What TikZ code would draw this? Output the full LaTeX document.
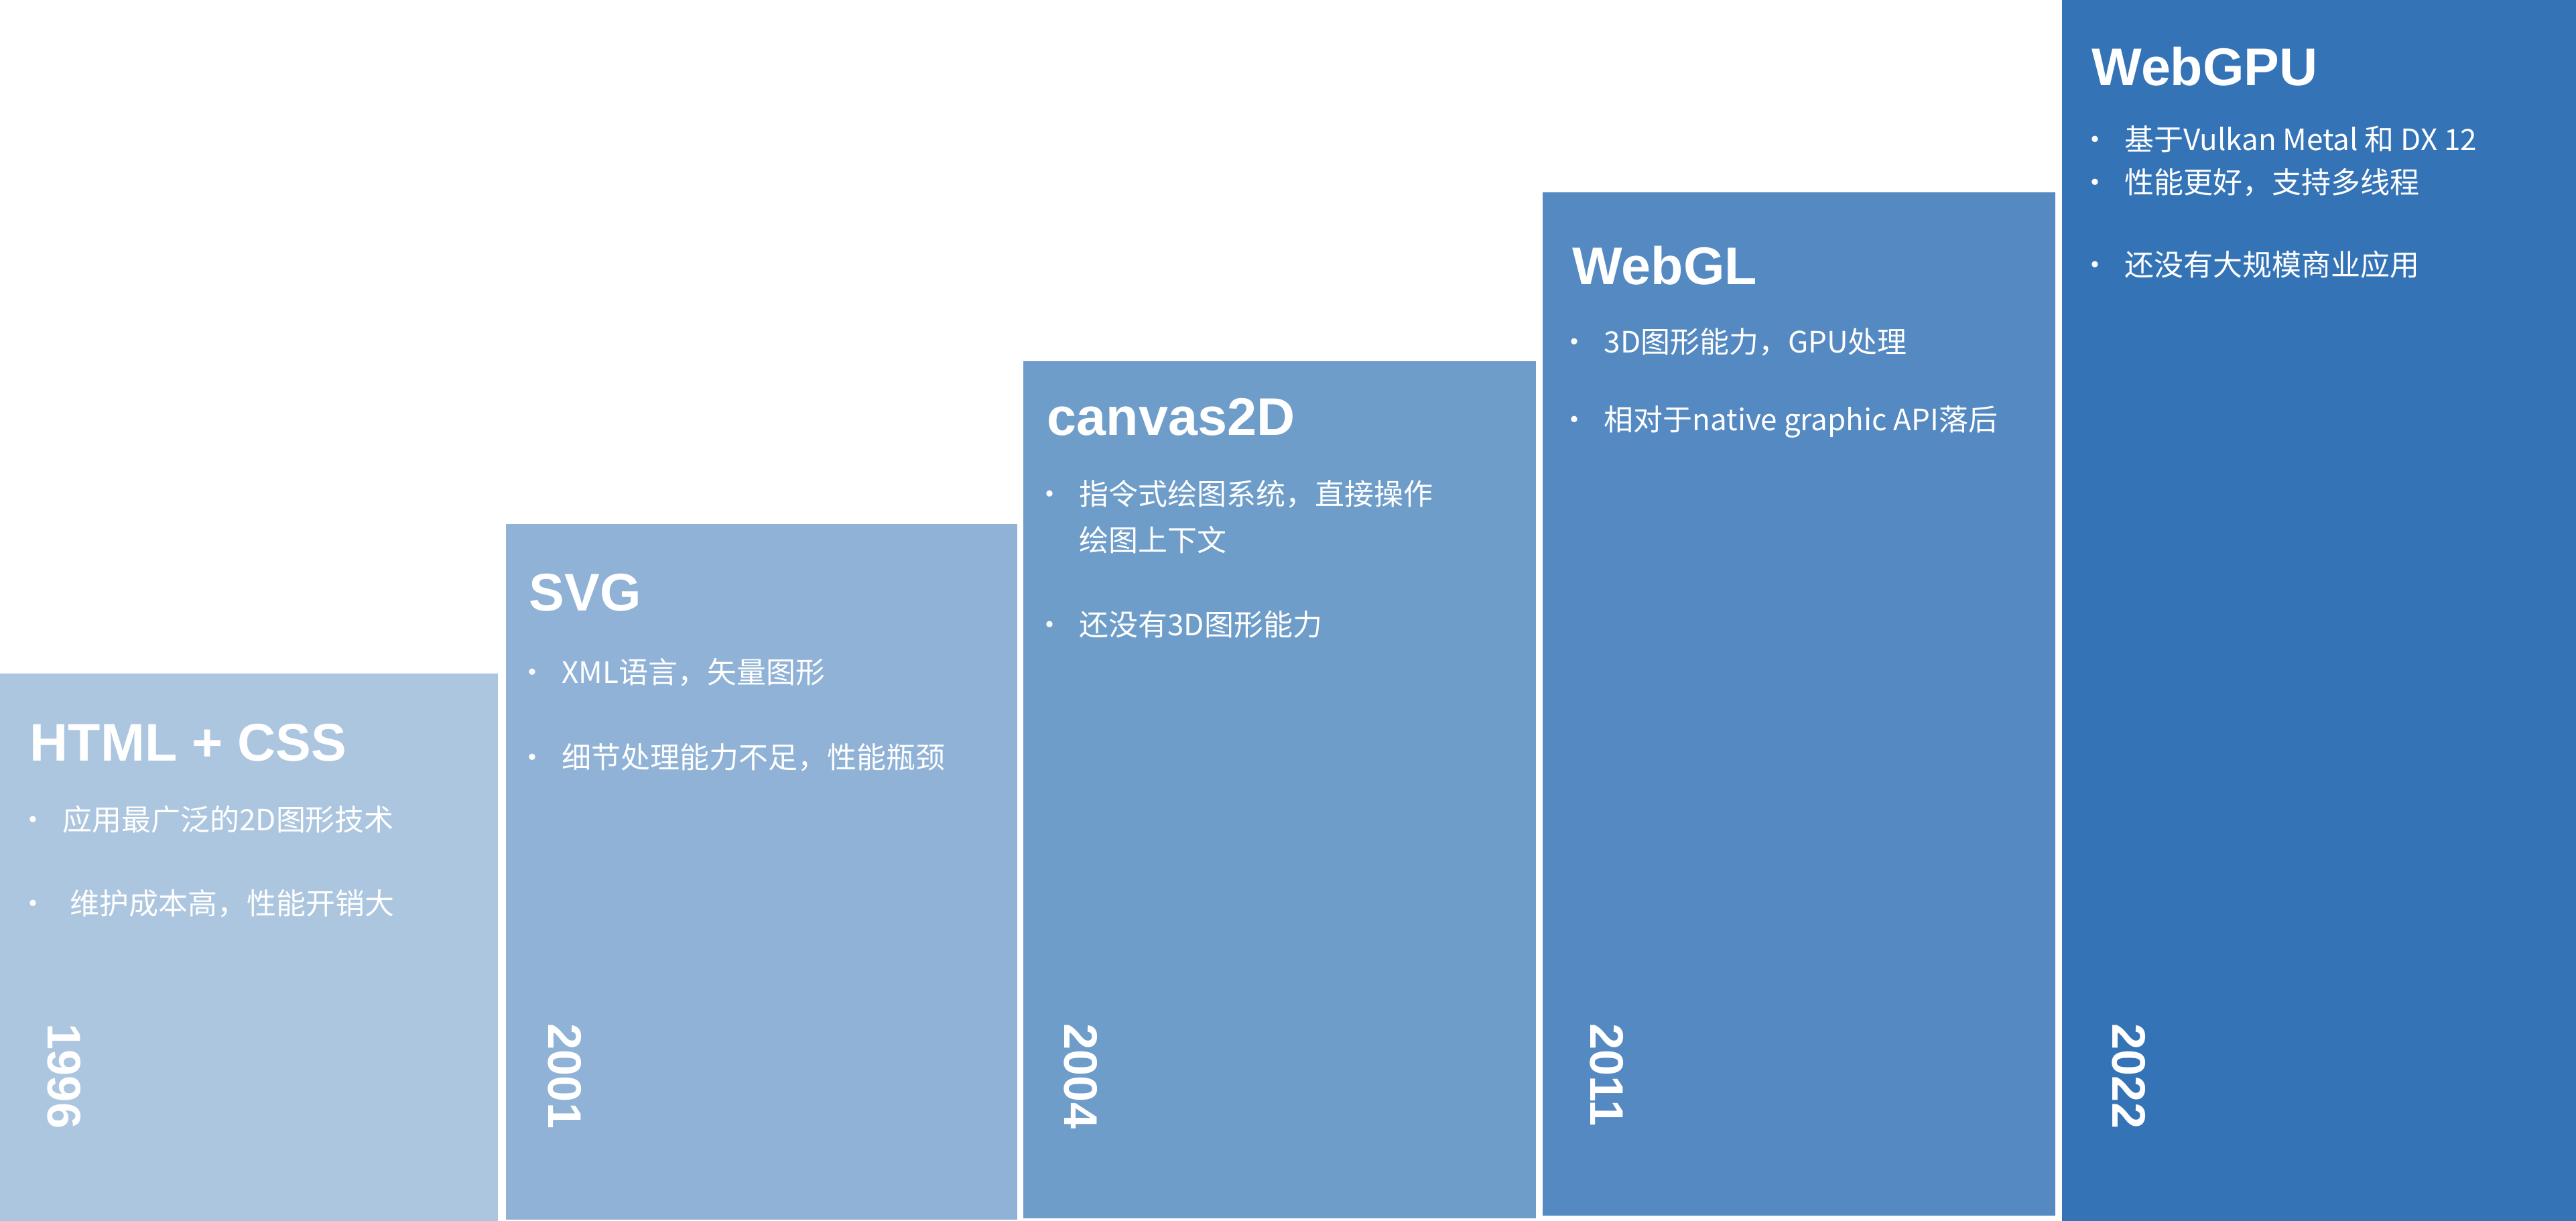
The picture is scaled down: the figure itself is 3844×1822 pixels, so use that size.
\documentclass[tikz,border=0pt]{standalone}
\usepackage{fontspec}
\setmainfont{Liberation Sans}
\newfontfamily\cjk{Noto Sans CJK SC}
\usetikzlibrary{positioning}
\definecolor{tone1}{HTML}{ADC6DF}
\definecolor{tone2}{HTML}{8FB2D6}
\definecolor{tone3}{HTML}{6E9DC9}
\definecolor{tone4}{HTML}{5589C1}
\definecolor{tone5}{HTML}{3474B6}
\tikzset{bar/.style={fill=#1,draw=none},
  era/.style={anchor=base west,text=white,inner sep=0pt,font=\fontsize{22.5}{27}\selectfont\bfseries},
  point/.style={anchor=west,text=white,inner sep=0pt,align=left,font=\cjk\fontsize{12.5}{19.6}\selectfont},
  year/.style={rotate=-90,anchor=west,text=white,inner sep=0pt,font=\fontsize{20}{24}\selectfont\bfseries}}
\newcommand{\dotgap}{·\hspace{0.5em}}

\begin{document}
\begin{tikzpicture}[x=0.01cm,y=-0.01cm]
\useasboundingbox (0,0) rectangle (3844,1822);
% the five steps
\fill[bar=tone1] (0,1005) rectangle (743,1822);
\fill[bar=tone2] (755,782) rectangle (1518,1820);
\fill[bar=tone3] (1527,539) rectangle (2292,1818);
\fill[bar=tone4] (2302,287) rectangle (3067,1814);
\fill[bar=tone5] (3077,0) rectangle (3844,1822);
% titles
\node[era] (html) at (44,1135) {HTML + CSS};
\node[era] (svg) at (789,912) {SVG};
\node[era] (canvas) at (1562,650) {canvas2D};
\node[era] (webgl) at (2346,425) {WebGL};
\node[era] (webgpu) at (3121,128) {WebGPU};
% points
\node[point] (html1) at (27,1223) {\dotgap 应用最广泛的2D图形技术};
\node[point] (html2) at (27,1348) {\dotgap\hspace{0.25em}维护成本高，性能开销大};
\node[point] (svg1) at (772,1003) {\dotgap XML语言，矢量图形};
\node[point] (svg2) at (772,1130) {\dotgap 细节处理能力不足，性能瓶颈};
\node[point,anchor=north west] (canvas1) at (1544,716) {\dotgap 指令式绘图系统，直接操作\\\hphantom{\dotgap}绘图上下文};
\node[point] (canvas2) at (1544,932) {\dotgap 还没有3D图形能力};
\node[point] (webgl1) at (2327,510) {\dotgap 3D图形能力，GPU处理};
\node[point] (webgl2) at (2327,630) {\dotgap 相对于native graphic API落后};
\node[point] (webgpu1) at (3104,208) {\dotgap 基于Vulkan Metal 和 DX 12};
\node[point] (webgpu2) at (3104,272) {\dotgap 性能更好，支持多线程};
\node[point] (webgpu3) at (3104,395) {\dotgap 还没有大规模商业应用};
% years
\node[year] (y1996) at (96,1527) {1996};
\node[year] (y2001) at (843,1527) {2001};
\node[year] (y2004) at (1613,1527) {2004};
\node[year] (y2011) at (2398,1527) {2011};
\node[year] (y2022) at (3177,1527) {2022};
\end{tikzpicture}
\end{document}
